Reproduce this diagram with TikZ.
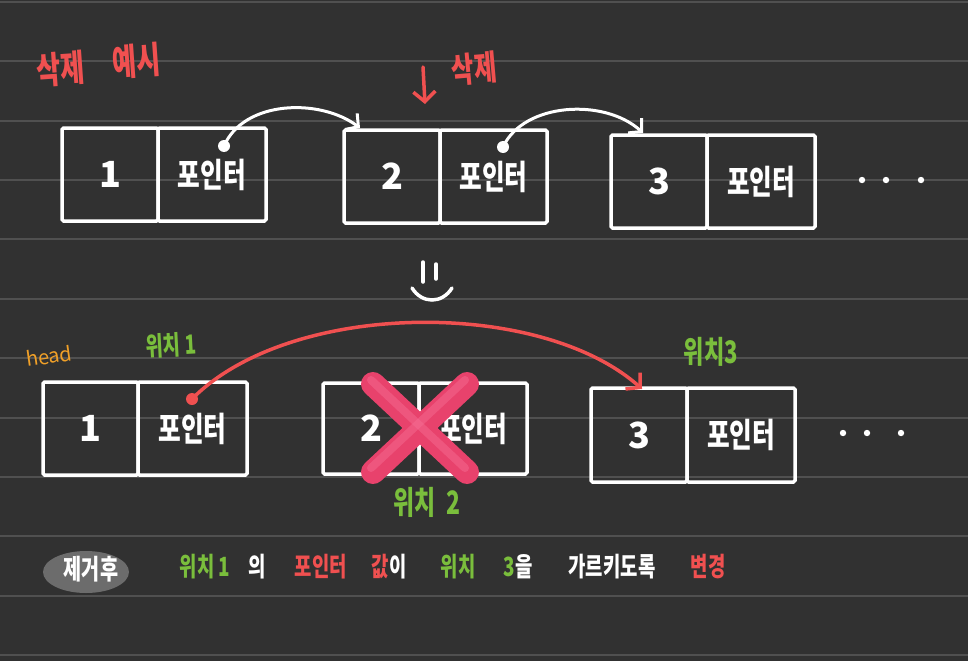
\documentclass[tikz,border=0pt]{standalone}
\usepackage{fontspec}
\usepackage{graphicx}
\usetikzlibrary{arrows.meta,shapes.geometric}
\newfontfamily\kr{Noto Sans CJK KR}
\definecolor{bg}{RGB}{49,49,49}
\definecolor{rulecol}{RGB}{80,80,80}
\definecolor{hred}{RGB}{240,80,80}
\definecolor{hgreen}{RGB}{122,190,60}
\definecolor{horange}{RGB}{240,160,40}
\definecolor{xpink}{RGB}{232,66,108}
\definecolor{xlight}{RGB}{246,112,150}
\definecolor{pillgray}{RGB}{108,108,108}
\newcommand\hw[1]{\scalebox{0.82}[1.15]{#1}}
\newcommand\hwbox[1]{\scalebox{0.88}[1.2]{#1}}
\begin{document}
\begin{tikzpicture}[x=1pt,y=-1pt,
  cell/.style={draw=white, line width=3.5pt, rounded corners=1.5pt, inner sep=0pt, minimum height=93pt, text=white},
  numcell/.style={cell, minimum width=96pt, font=\kr\bfseries\fontsize{36}{38}\selectfont},
  ptrcell/.style={cell, minimum width=107pt, font=\kr\bfseries\fontsize{28}{30}\selectfont},
  label/.style={inner sep=0pt, font=\kr\bfseries\fontsize{#1}{#1}\selectfont},
  link/.style={white, line width=3pt, line cap=round, -{Straight Barb[length=9pt,width=20pt,line width=3pt]}},
  redlink/.style={hred, line width=3.5pt, line cap=round, -{Straight Barb[length=10pt,width=22pt,line width=3.5pt]}},
  dotmark/.style={circle, fill=#1, inner sep=0pt, minimum size=12pt}
]
% background and ruled lines
\fill[bg] (0,0) rectangle (968,661);
\useasboundingbox (0,0) rectangle (968,661);
\foreach \k in {0,...,11}{
  \draw[rulecol, line width=2pt] (0,{2+59.36*\k}) -- (968,{2+59.36*\k});
}

% ---- top row ----
\node[numcell] (t1n) at (110,174.5) {1};
\node[ptrcell, minimum width=108pt] (t1p) at (212,174.5) {\hwbox{포인터}};
\node[numcell] (t2n) at (392,176.5) {2};
\node[ptrcell] (t2p) at (493.5,176.5) {\hwbox{포인터}};
\node[numcell] (t3n) at (659,181.5) {3};
\node[ptrcell, minimum width=108pt] (t3p) at (761,181.5) {\hwbox{포인터}};
\fill[white] (862,180) circle[radius=3.2] (886,180) circle[radius=3.2] (921,180) circle[radius=3.2];

\node[dotmark=white] (t1d) at (224,146) {};
\node[dotmark=white] (t2d) at (503,147) {};
\coordinate (t2in) at (360,128);
\coordinate (t3in) at (643,133);
\draw[link] (t1d.center) .. controls (244,100) and (320,98) .. (t2in);
\draw[link] (t2d.center) .. controls (524,102) and (605,98) .. (t3in);

\node[label=32, text=hred, rotate=4] (titleA) at (61,69) {\hw{삭제}};
\node[label=32, text=hred, rotate=4] (titleB) at (137,61) {\hw{예시}};
\coordinate (delA) at (423,67);
\coordinate (delB) at (425,104);
\draw[redlink, line width=3.5pt] (delA) -- (delB);
\node[label=30, text=hred, rotate=5] (dellbl) at (474,69) {\hw{삭제}};

% smiley
\draw[white, line width=3.5pt, line cap=round] (423,262) -- (423,282);
\draw[white, line width=3.5pt, line cap=round] (436,264) -- (436,279);
\draw[white, line width=3.5pt, line cap=round] (412,288) .. controls (422,304) and (442,304) .. (452,288);

% ---- bottom row ----
\node[label=20, text=horange, font=\kr\fontsize{20}{20}\selectfont, rotate=8] (head) at (49,356) {head};
\node[label=23, text=hgreen, rotate=3] (pos1) at (171,345) {\hw{위치 1}};
\node[label=27, text=hgreen] (pos3) at (711,352) {\hw{위치3}};
\node[label=28, text=hgreen] (pos2) at (427,502) {\hw{위치\ \ 2}};

\node[numcell, minimum width=95pt] (b1n) at (90.5,428.5) {1};
\node[ptrcell, minimum width=109pt] (b1p) at (192.5,428.5) {\hwbox{포인터}};
\node[numcell, minimum height=91pt] (b2n) at (371,428.5) {2};
\node[ptrcell, minimum width=108pt, minimum height=91pt] (b2p) at (473,428.5) {\hwbox{포인터}};
\node[numcell, minimum height=94pt] (b3n) at (639,435) {3};
\node[ptrcell, minimum width=108pt, minimum height=94pt] (b3p) at (741,435) {\hwbox{포인터}};
\fill[white] (843,433) circle[radius=3.2] (867,433) circle[radius=3.2] (901,433) circle[radius=3.2];

\node[dotmark=hred] (b1d) at (192,399) {};
\coordinate (b3in) at (642,389);
\draw[redlink] (b1d.center) .. controls (290,300) and (540,298) .. (b3in);

% red X over node 2
\draw[xpink, line width=24pt, line cap=round] (373,384) -- (467,472);
\draw[xpink, line width=24pt, line cap=round] (467,384) -- (373,472);
\draw[xlight, line width=8pt, line cap=round, opacity=0.45] (371,380) -- (465,468);
\draw[xlight, line width=8pt, line cap=round, opacity=0.45] (465,380) -- (371,468);

% ---- bottom sentence ----
\node[ellipse, fill=pillgray, minimum width=86pt, minimum height=42pt, inner sep=0pt] (pill) at (86,572) {};
\node[label=24, text=white] (after) at (91,569) {\hw{제거후}};
\node[label=23, text=hgreen] (s1) at (205,567) {\hw{위치 1}};
\node[label=23, text=white] (s2) at (257,567) {\hw{의}};
\node[label=23, text=hred] (s3) at (321,567) {\hw{포인터}};
\node[label=23, text=white] (s4) at (389,567) {\hw{\textcolor{hred}{값}이}};
\node[label=23, text=hgreen] (s5) at (458,567) {\hw{위치}};
\node[label=23, text=white] (s6) at (518,567) {\hw{\textcolor{hgreen}{3}을}};
\node[label=23, text=white] (s7) at (612,567) {\hw{가르키도록}};
\node[label=23, text=hred] (s8) at (708,567) {\hw{변경}};
\end{tikzpicture}
\end{document}
